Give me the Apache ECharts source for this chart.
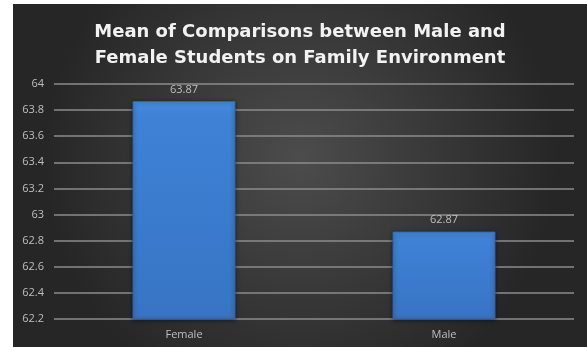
<!DOCTYPE html>
<html>
<head>
<meta charset="utf-8">
<script src="https://cdn.jsdelivr.net/npm/echarts@6/dist/echarts.min.js"></script>
<style>
  html, body { margin: 0; padding: 0; background: #ffffff; }
  #chart { position: absolute; left: 13px; top: 4px; width: 574px; height: 343px; }
</style>
</head>
<body>
<div id="chart"></div>
<script>
// data
var categories = ["Female", "Male"];
var meanValues = [63.87, 62.87];
var yMin = 62.2, yMax = 64, yStep = 0.2;

var chart = echarts.init(document.getElementById("chart"));

var option = {
  // dark grey background, a bit lighter in the middle
  backgroundColor: new echarts.graphic.RadialGradient(0.5, 0.45, 0.75, [
    { offset: 0, color: "#4c4c4c" },
    { offset: 1, color: "#262626" }
  ]),
  title: {
    text: "Mean of Comparisons between Male and\nFemale Students on Family Environment",
    left: "center",
    top: 10,
    textStyle: {
      color: "#f2f2f2",
      fontFamily: "DejaVu Sans",
      fontWeight: "bold",
      fontSize: 18,
      lineHeight: 26
    }
  },
  grid: { left: 41, right: 13, top: 80, bottom: 28 },
  xAxis: {
    type: "category",
    data: categories,
    axisLine: { show: false },
    axisTick: { show: false },
    axisLabel: { color: "#bfbfbf", fontSize: 11, fontFamily: "Open Sans", margin: 10 }
  },
  yAxis: {
    type: "value",
    min: yMin,
    max: yMax,
    interval: yStep,
    axisLine: { show: false },
    axisTick: { show: false },
    axisLabel: {
      color: "#bfbfbf",
      fontSize: 11,
      fontFamily: "Open Sans",
      margin: 10,
      formatter: function (v) { return String(Math.round(v * 10) / 10); }
    },
    splitLine: { lineStyle: { color: "#8c8c8c", width: 1.5 } }
  },
  series: [
    {
      type: "bar",
      data: meanValues,
      barWidth: 103,
      itemStyle: {
        color: new echarts.graphic.LinearGradient(0, 0, 0, 1, [
          { offset: 0, color: "#4a8de0" },
          { offset: 0.06, color: "#3f82d6" },
          { offset: 1, color: "#3774c4" }
        ]),
        borderColor: "#2f63a8",
        borderWidth: 1,
        shadowColor: "rgba(0,0,0,0.5)",
        shadowBlur: 4,
        shadowOffsetY: 1
      },
      label: {
        show: true,
        position: "top",
        distance: 6,
        color: "#bfbfbf",
        fontSize: 11,
        fontFamily: "Open Sans"
      }
    }
  ]
};

chart.setOption(option);
</script>
</body>
</html>
